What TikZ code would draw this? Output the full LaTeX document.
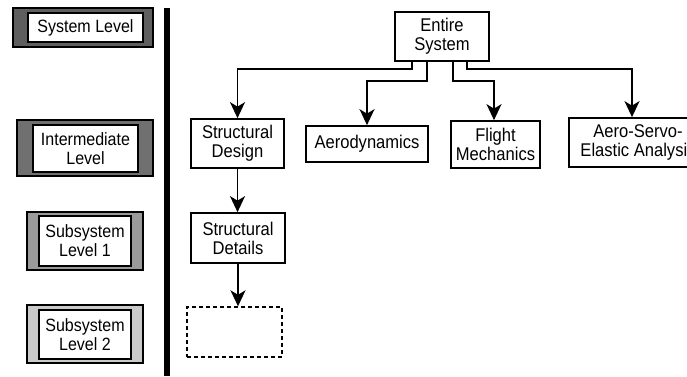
\documentclass[tikz,border=0pt]{standalone}
\usepackage{fontspec}
\setmainfont{Liberation Sans}[FakeStretch=0.9]
\usetikzlibrary{arrows.meta}
\definecolor{lvA}{HTML}{5F5F5F}
\definecolor{lvB}{HTML}{707070}
\definecolor{lvC}{HTML}{9A9A9A}
\definecolor{lvD}{HTML}{CACACA}
\tikzset{
  box/.style={draw=black, line width=1.7pt, fill=white, inner sep=0pt, align=center,
    font=\fontsize{18.4}{19}\selectfont},
  outerbox/.style={draw=black, line width=1.4pt, inner sep=0pt},
  innerbox/.style={draw=black, line width=1.4pt, fill=white, inner sep=0pt, align=center,
    font=\fontsize{17.8}{19}\selectfont},
  dashbox/.style={draw=black, line width=1.4pt, dashed, dash pattern=on 4pt off 3pt, inner sep=0pt},
  conn/.style={line width=1.8pt, -{Stealth[length=16pt, width=15pt, inset=4.5pt]}},
}
\begin{document}
\begin{tikzpicture}[x=1pt,y=-1pt]
\useasboundingbox (0,0) rectangle (687,376);
\clip (0,0) rectangle (687,376);
\fill[white] (0,0) rectangle (687,376);

% level legend
\node[outerbox, fill=lvA, minimum width=140pt, minimum height=39pt] (o1) at (83,27.5) {};
\node[innerbox, minimum width=115pt, minimum height=29pt] (i1) at (85.5,27.5) {System Level};
\node[outerbox, fill=lvB, minimum width=136pt, minimum height=56pt] (o2) at (85,148) {};
\node[innerbox, minimum width=105pt, minimum height=47pt] (i2) at (85.5,148.5) {Intermediate\\Level};
\node[outerbox, fill=lvC, minimum width=116pt, minimum height=58pt] (o3) at (85,241) {};
\node[innerbox, minimum width=92pt, minimum height=50pt] (i3) at (85,241) {Subsystem\\Level 1};
\node[outerbox, fill=lvD, minimum width=116pt, minimum height=58pt] (o4) at (85,334) {};
\node[innerbox, minimum width=92pt, minimum height=49pt] (i4) at (85,334.5) {Subsystem\\Level 2};

% separator bar
\fill[black] (164,8) rectangle (170,376);

% hierarchy
\node[box, minimum width=94pt, minimum height=49pt] (es) at (442,36.5) {Entire\\System};
\node[box, minimum width=93pt, minimum height=49pt] (sd) at (237.5,143.5) {Structural\\Design};
\node[box, minimum width=122pt, minimum height=36pt] (ae) at (367,144) {Aerodynamics};
\node[box, minimum width=89pt, minimum height=47pt] (fm) at (495.5,144.5) {Flight\\Mechanics};
\node[box, minimum width=138pt, minimum height=49pt] (ase) at (638,142.5) {Aero-Servo-\\Elastic Analysis};
\node[box, minimum width=94pt, minimum height=50pt] (sdd) at (238,238) {Structural\\Details};
\node[dashbox, minimum width=95pt, minimum height=50pt] (nx) at (234.5,332) {};

\draw[conn] ([xshift=-30pt]es.south) -- ++(0,7) -| (sd.north);
\draw[conn] ([xshift=-15pt]es.south) -- ++(0,19) -| (ae.north);
\draw[conn] ([xshift=11pt]es.south) -- ++(0,19) -| ([xshift=-1.5pt]fm.north);
\draw[conn] ([xshift=25pt]es.south) -- ++(0,7) -| ([xshift=-6pt]ase.north);
\draw[conn] (sd.south) -- (sdd.north -| sd.south);
\draw[conn] (sdd.south) -- (nx.north -| sdd.south);
\end{tikzpicture}
\end{document}
